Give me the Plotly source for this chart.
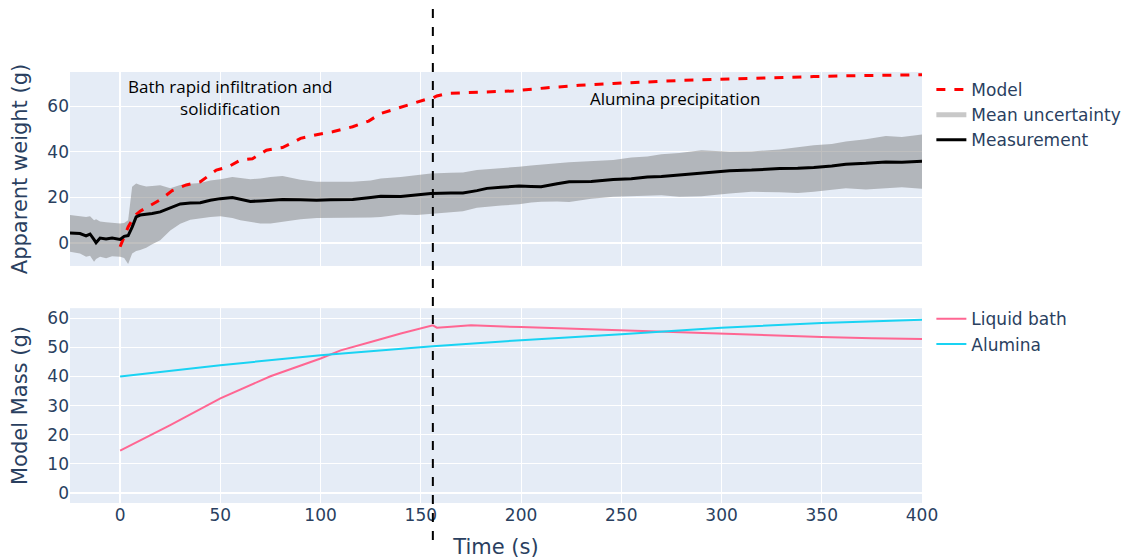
import plotly.graph_objects as go

# ---------------- data ----------------
meas_t = [-25, -20, -17, -15, -13, -12, -10, -7, -4, -1, 0, 2, 4, 6, 8, 10, 13, 16, 20, 25, 30, 35, 40, 45, 50,
          56, 60, 65, 70, 75, 81, 90, 98, 105, 116, 125, 130, 140, 148, 155, 165, 171, 178, 183, 190, 199, 205,
          210, 218, 224, 235, 246, 255, 263, 270, 279, 290, 304, 315, 329, 338, 346, 355, 362, 372, 382, 390, 400]
measurement = [4.4, 4.2, 3.2, 4.0, 1.5, 0.2, 2.2, 1.8, 2.2, 1.5, 1.6, 3.0, 3.3, 7.0, 11.5, 12.3, 12.6, 13.0, 13.7,
               15.5, 17.2, 17.6, 17.7, 18.8, 19.5, 20.0, 19.3, 18.3, 18.5, 18.8, 19.1, 19.0, 18.8, 19.0, 19.1,
               20.0, 20.5, 20.4, 21.0, 21.8, 22.0, 22.0, 23.0, 24.0, 24.5, 25.0, 24.8, 24.7, 26.0, 26.9, 27.0,
               27.9, 28.2, 29.0, 29.2, 29.8, 30.5, 31.7, 32.0, 32.7, 32.8, 33.1, 33.8, 34.6, 35.0, 35.6, 35.5, 35.9]
upper = [12.3, 12.0, 11.5, 11.8, 10.0, 10.5, 9.5, 9.2, 9.0, 8.6, 8.6, 8.8, 10.0, 24.7, 26.1, 25.5, 24.8, 25.0,
         25.4, 24.0, 25.5, 26.0, 26.3, 27.5, 28.0, 29.0, 28.5, 28.0, 28.3, 29.0, 29.4, 27.8, 26.9, 27.0, 26.9,
         27.5, 28.3, 29.0, 29.8, 30.5, 30.8, 31.0, 32.0, 32.3, 33.0, 33.5, 34.0, 34.5, 35.0, 35.5, 35.8, 36.4,
         37.5, 38.0, 39.0, 39.5, 40.7, 40.0, 40.2, 41.0, 42.0, 42.9, 43.5, 44.5, 45.5, 47.0, 46.5, 47.6]
lower = [-3.8, -4.5, -6.0, -5.5, -8.2, -7.0, -6.0, -6.6, -5.8, -6.0, -6.0, -6.5, -9.2, -4.5, -3.5, -3.0, -2.0,
         -0.5, 1.3, 5.5, 8.5, 10.2, 11.0, 11.5, 11.8, 11.0, 10.0, 9.2, 8.6, 8.6, 9.3, 10.5, 11.0, 11.0, 11.0,
         11.2, 11.5, 12.5, 12.3, 12.8, 13.5, 14.0, 15.5, 16.0, 16.5, 17.0, 17.8, 18.1, 18.3, 18.0, 19.5, 20.3,
         20.5, 20.8, 21.0, 20.3, 20.5, 21.8, 22.5, 22.3, 22.0, 22.5, 23.5, 24.0, 23.5, 24.0, 24.5, 23.8]

model_t = [0, 2, 4, 6, 8, 10, 13, 16, 20, 26, 33, 40, 44, 48, 54, 60, 66, 73, 78, 81, 86, 90, 98, 106, 116, 124,
           130, 138, 146, 154, 156, 158, 163, 180, 196, 212, 229, 246, 263, 280, 296, 313, 329, 346, 362, 382, 400]
model = [-1.6, 3.0, 7.1, 10.0, 12.5, 14.0, 15.5, 17.0, 19.0, 23.0, 25.5, 26.9, 29.5, 32.0, 33.5, 36.4, 37.0,
         40.7, 41.5, 41.9, 44.0, 45.9, 47.5, 48.8, 51.0, 53.5, 56.8, 59.0, 61.2, 63.4, 63.6, 64.5, 65.6, 66.2,
         66.7, 68.0, 69.2, 70.0, 70.7, 71.3, 71.7, 72.2, 72.6, 73.0, 73.3, 73.6, 73.8]

bath_t = [0, 25, 50, 75, 100, 110, 125, 140, 156, 158, 165, 175, 200, 225, 250, 270, 300, 325, 350, 375, 400]
bath = [14.5, 23.3, 32.5, 40.1, 46.2, 49.0, 51.9, 54.8, 57.6, 56.8, 57.1, 57.6, 57.0, 56.4, 55.9, 55.3, 54.7,
        54.1, 53.6, 53.2, 52.9]
alumina_t = [0, 50, 100, 156, 200, 250, 300, 350, 400]
alumina = [40.0, 43.9, 47.3, 50.4, 52.5, 54.5, 56.8, 58.4, 59.5]

transition_t = 156

# ---------------- figure ----------------
band_color = "rgba(128,128,128,0.5)"
fig = go.Figure()

fig.add_trace(go.Scatter(x=meas_t, y=lower, mode="lines", line=dict(width=0), showlegend=False,
                         hoverinfo="skip", xaxis="x", yaxis="y"))
fig.add_trace(go.Scatter(x=meas_t, y=upper, mode="lines", line=dict(width=0), fill="tonexty",
                         fillcolor=band_color, showlegend=False, hoverinfo="skip", xaxis="x", yaxis="y"))
fig.add_trace(go.Scatter(x=model_t, y=model, mode="lines", name="Model",
                         line=dict(color="red", width=3, dash="dash"), xaxis="x", yaxis="y", legend="legend"))
fig.add_trace(go.Scatter(x=[None], y=[None], mode="lines", name="Mean uncertainty",
                         line=dict(color="rgba(200,200,200,1)", width=5), xaxis="x", yaxis="y", legend="legend"))
fig.add_trace(go.Scatter(x=meas_t, y=measurement, mode="lines", name="Measurement",
                         line=dict(color="black", width=3), xaxis="x", yaxis="y", legend="legend"))

fig.add_trace(go.Scatter(x=bath_t, y=bath, mode="lines", name="Liquid bath",
                         line=dict(color="#FF6692", width=2), xaxis="x2", yaxis="y2", legend="legend2"))
fig.add_trace(go.Scatter(x=alumina_t, y=alumina, mode="lines", name="Alumina",
                         line=dict(color="#19D3F3", width=2), xaxis="x2", yaxis="y2", legend="legend2"))

fig.add_shape(type="line", xref="x", yref="paper", x0=transition_t, x1=transition_t, y0=-0.086, y1=1.155,
              line=dict(color="black", width=2, dash="dash"))

ann_font = dict(family="Open Sans", size=17, color="black")
fig.add_annotation(x=55, y=64, xref="x", yref="y", text="Bath rapid infiltration and<br>solidification",
                   showarrow=False, font=ann_font)
fig.add_annotation(x=277, y=63.5, xref="x", yref="y", text="Alumina precipitation",
                   showarrow=False, font=ann_font)

title_font = dict(size=21)
xticks = [0, 50, 100, 150, 200, 250, 300, 350, 400]
fig.update_layout(
    width=1134, height=558,
    template="plotly",
    font=dict(family="DejaVu Sans", size=17, color="#2a3f5f"),
    margin=dict(l=62, r=220, t=64, b=63, autoexpand=False),
    xaxis=dict(domain=[0, 1], anchor="y", range=[-25, 400], showticklabels=False, matches="x2",
               tickvals=xticks, automargin=False),
    yaxis=dict(domain=[0.55, 1], anchor="x", range=[-10, 75], tickvals=[0, 20, 40, 60], automargin=False,
               title=dict(text="Apparent weight (g)", font=title_font)),
    xaxis2=dict(domain=[0, 1], anchor="y2", range=[-25, 400], tickvals=xticks, automargin=False,
                title=dict(text="Time (s)", font=title_font)),
    yaxis2=dict(domain=[0, 0.452], anchor="x2", range=[-3.5, 63.5], tickvals=[0, 10, 20, 30, 40, 50, 60],
                automargin=False, title=dict(text="Model Mass (g)", font=title_font)),
    legend=dict(x=1.011, y=1.0, xanchor="left", yanchor="top", bgcolor="rgba(0,0,0,0)",
                traceorder="normal", font=dict(size=17)),
    legend2=dict(x=1.011, y=0.468, xanchor="left", yanchor="top", bgcolor="rgba(0,0,0,0)",
                 traceorder="normal", font=dict(size=17)),
    paper_bgcolor="white",
)

fig.write_html("out.html")
